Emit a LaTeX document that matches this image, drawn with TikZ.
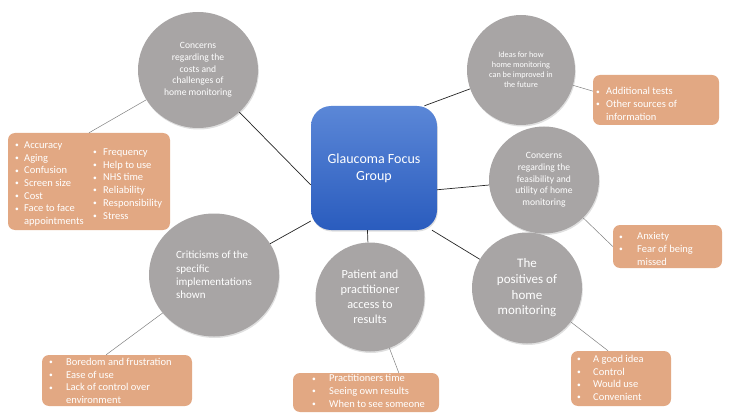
\documentclass[tikz,border=0pt]{standalone}
\usepackage{fontspec}
\setmainfont{Carlito}
\usetikzlibrary{shapes.geometric,shadows}
\definecolor{topicgray}{HTML}{A8A5A5}
\definecolor{listorange}{HTML}{E2A883}
\definecolor{hubtop}{HTML}{5B87D7}
\definecolor{hubbottom}{HTML}{2A5CBE}
% small bullet in a box of given width, and the same gap with no bullet
\newcommand\bl[1][9pt]{\makebox[#1][l]{\raisebox{.8pt}{\fontsize{7.5}{7.5}\selectfont\textbullet}}}
\newcommand\nb[1][9pt]{\hspace*{#1}}
\newcommand\fs[2]{\fontsize{#1}{#2}\selectfont}
\begin{document}
\begin{tikzpicture}[x=1pt,y=-1pt,
  topic/.style={ellipse,fill=topicgray,text=white,align=center,inner sep=0pt,
    drop shadow={opacity=.25,shadow xshift=.8pt,shadow yshift=-1.5pt}},
  listbox/.style={rounded corners=7pt,fill=listorange,inner sep=0pt},
  listtext/.style={text=white,align=left,anchor=west,inner sep=0pt,font=\fs{10.5}{12.7}},
  hubline/.style={draw=black!85,line width=.7pt},
  subline/.style={draw=gray,line width=.5pt}]
\useasboundingbox (0,0) rectangle (734,417);
% central box
\node[rounded corners=20pt,top color=hubtop,bottom color=hubbottom,minimum width=126,minimum height=124,
  text=white,align=center,font=\fs{14}{17},drop shadow={opacity=.25,shadow xshift=.8pt,shadow yshift=-1.5pt}]
  (hub) at (374,168) {Glaucoma Focus\\Group};
% themes
\node[topic,minimum width=120,minimum height=116,font=\fs{9.6}{11.7}] (costs) at (198,70)
  {Concerns\\regarding the\\costs and\\challenges of\\home monitoring};
\node[topic,minimum width=108,minimum height=110,font=\fs{8.2}{10}] (ideas) at (521,70)
  {Ideas for how\\home monitoring\\can be improved in\\the future};
\node[topic,minimum width=110,minimum height=107,font=\fs{9.6}{11.7}] (feasib) at (544,180)
  {Concerns\\regarding the\\feasibility and\\utility of home\\monitoring};
\node[topic,minimum width=110,minimum height=111,font=\fs{13}{15.7}] (positives) at (527,288)
  {The\\positives of\\home\\monitoring};
\node[topic,minimum width=109,minimum height=109,font=\fs{12.3}{15}] (access) at (370,297)
  {Patient and\\practitioner\\access to\\results};
\node[topic,minimum width=130,minimum height=123,font=\fs{11}{13.3},align=left] (critic) at (214,275)
  {Criticisms of the\\specific\\implementations\\shown};
% lists
\node[listbox,minimum width=162,minimum height=97] (costslist) at (89,181.5) {};
\node[listbox,minimum width=126,minimum height=50] (ideaslist) at (656,100) {};
\node[listbox,minimum width=109,minimum height=43] (feasiblist) at (667.5,246.5) {};
\node[listbox,minimum width=100,minimum height=55] (positivelist) at (621,378.5) {};
\node[listbox,minimum width=146,minimum height=39] (accesslist) at (366,392.5) {};
\node[listbox,minimum width=150,minimum height=51] (criticlist) at (117,380.5) {};
\node[listtext] (costsleft) at (15,184) {\bl Accuracy\\\bl Aging\\\bl Confusion\\\bl Screen size\\\bl Cost\\
  \bl Face to face\\\nb appointments};
\node[listtext] (costsright) at (93,184) {\bl[10pt]Frequency\\\bl[10pt]Help to use\\\bl[10pt]NHS time\\
  \bl[10pt]Reliability\\\bl[10pt]Responsibility\\\bl[10pt]Stress};
\node[listtext] (ideastext) at (596,104) {\bl[10pt]Additional tests\\\bl[10pt]Other sources of\\\nb[10pt]information};
\node[listtext] (feasibtext) at (619,249) {\bl[18pt]Anxiety\\\bl[18pt]Fear of being\\\nb[18pt]missed};
\node[listtext] (positivetext) at (577,378) {\bl[16pt]A good idea\\\bl[16pt]Control\\\bl[16pt]Would use\\\bl[16pt]Convenient};
\node[listtext] (accesstext) at (312,391) {\bl[17pt]Practitioners time\\\bl[17pt]Seeing own results\\\bl[17pt]When to see someone};
\node[listtext] (critictext) at (49,381) {\bl[17pt]Boredom and frustration\\\bl[17pt]Ease of use\\
  \bl[17pt]Lack of control over\\\nb[17pt]environment};
% connectors
\draw[hubline] (hub.195) -- (costs);
\draw[hubline] (hub.51) -- (ideas);
\draw[hubline] (hub.-19) -- (feasib);
\draw[hubline] (hub.-47) -- (positives);
\draw[hubline] (hub.-96) -- (access);
\draw[hubline] (hub.220) -- (critic);
\draw[subline] (costs) -- (costslist.north);
\draw[subline] (ideas) -- (ideaslist.172);
\draw[subline] (feasib) -- (feasiblist.west);
\draw[subline] (positives) -- (positivelist.115);
\draw[subline] (access) -- (accesslist.31);
\draw[subline] (critic) -- (criticlist.113);
\end{tikzpicture}
\end{document}
